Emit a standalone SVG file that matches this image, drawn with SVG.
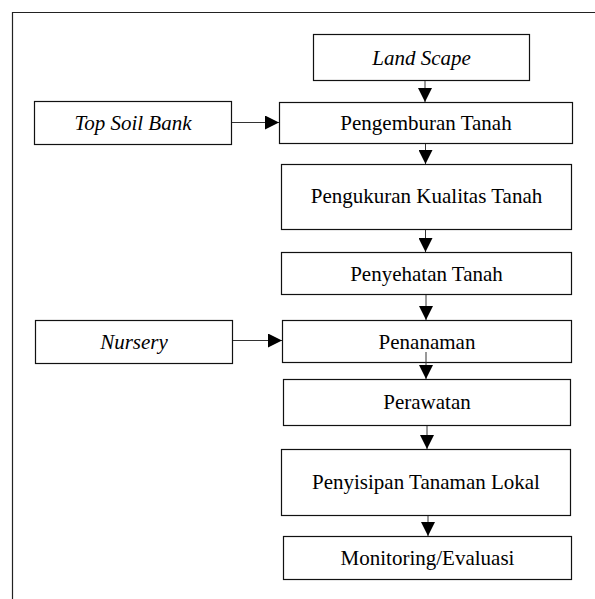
<svg xmlns="http://www.w3.org/2000/svg" width="595" height="599" viewBox="0 0 595 599">
<defs>
<style>
.box{fill:#fff;stroke:#111;stroke-width:1.2}
.t{font-family:"Liberation Serif","Times New Roman",serif;font-size:21px;fill:#000;text-anchor:middle}
.i{font-style:italic}
.c{stroke:#333;stroke-width:1;fill:none;marker-end:url(#ah)}
.frame{stroke:#222;stroke-width:1.2;fill:none}
</style>
<marker id="ah" markerUnits="userSpaceOnUse" markerWidth="14" markerHeight="14" refX="14" refY="7" orient="auto">
<path d="M0,0 L14,7 L0,14 z" fill="#000"/>
</marker>
</defs>
<rect width="595" height="599" fill="#fff"/>
<path class="frame" d="M12.5,599 L12.5,12.5 L595,12.5"/>
<g id="landscape"><rect class="box" x="313.5" y="34.5" width="216" height="46"/><text class="t i" x="421.5" y="65">Land Scape</text></g>
<g id="topsoil"><rect class="box" x="34.5" y="101.5" width="197" height="43"/><text class="t i" x="133" y="130">Top Soil Bank</text></g>
<g id="pengemburan"><rect class="box" x="279.5" y="102.5" width="293" height="41"/><text class="t" x="426" y="130">Pengemburan Tanah</text></g>
<g id="pengukuran"><rect class="box" x="281.5" y="164.5" width="290" height="65"/><text class="t" x="426.5" y="203">Pengukuran Kualitas Tanah</text></g>
<g id="penyehatan"><rect class="box" x="281.5" y="252.5" width="290" height="42"/><text class="t" x="426.5" y="281">Penyehatan Tanah</text></g>
<g id="nursery"><rect class="box" x="35.5" y="320.5" width="197" height="43"/><text class="t i" x="134" y="349">Nursery</text></g>
<g id="penanaman"><rect class="box" x="282.5" y="320.5" width="289" height="42"/><text class="t" x="427" y="349">Penanaman</text></g>
<g id="perawatan"><rect class="box" x="283.5" y="379.5" width="287" height="46"/><text class="t" x="427" y="409">Perawatan</text></g>
<g id="penyisipan"><rect class="box" x="281.5" y="449.5" width="289" height="66"/><text class="t" x="426" y="489">Penyisipan Tanaman Lokal</text></g>
<g id="monitoring"><rect class="box" x="283.5" y="536.5" width="288" height="43"/><text class="t" x="427.5" y="565">Monitoring/Evaluasi</text></g>
<g id="connectors">
<line class="c" x1="425" y1="81" x2="425" y2="102"/>
<line class="c" x1="425.5" y1="144" x2="425.5" y2="164"/>
<line class="c" x1="425.5" y1="230" x2="425.5" y2="252"/>
<line class="c" x1="426" y1="295" x2="426" y2="320"/>
<line class="c" x1="426" y1="352" x2="426" y2="379"/>
<line class="c" x1="427" y1="426" x2="427" y2="449"/>
<line class="c" x1="428" y1="516" x2="428" y2="536"/>
<line class="c" x1="232" y1="122.5" x2="279" y2="122.5"/>
<line class="c" x1="233" y1="340.5" x2="282" y2="340.5"/>
</g>
</svg>
